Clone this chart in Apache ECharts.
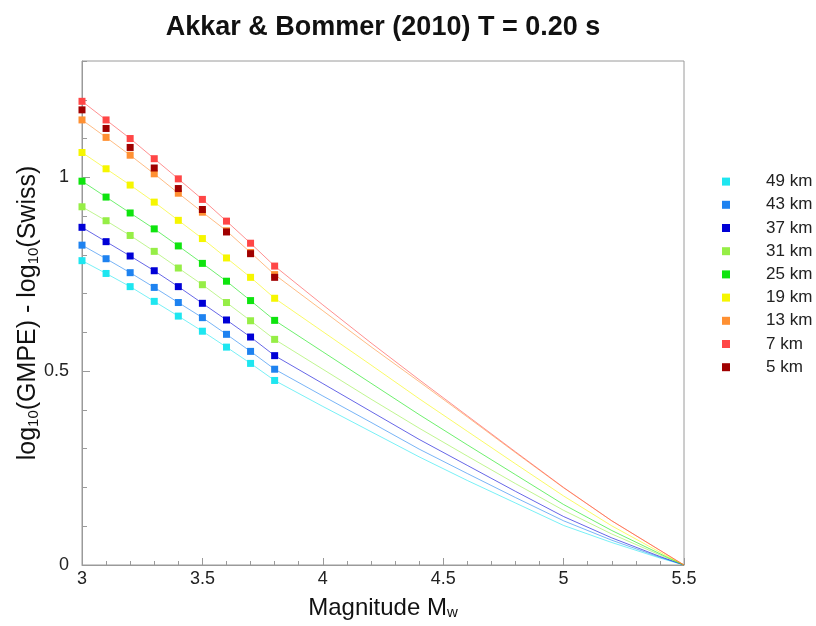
<!DOCTYPE html>
<html>
<head>
<meta charset="utf-8">
<script src="https://cdn.jsdelivr.net/npm/echarts@6/dist/echarts.min.js"></script>
<style>
  html, body { margin: 0; padding: 0; background: #ffffff; }
  #chart { width: 816px; height: 626px; }
</style>
</head>
<body>
<div id="chart"></div>
<script>
// Chart text
const titleText = 'Akkar & Bommer (2010) T = 0.20 s';
const xAxisTitle = 'Magnitude M{s|w}';
const yAxisTitle = 'log{s|10}(GMPE) - log{s|10}(Swiss)';

// Distances (legend order) and their colours
const distanceLabels = ['49 km', '43 km', '37 km', '31 km', '25 km', '19 km', '13 km', '7 km', '5 km'];
const seriesColors = ['#1ee6f0', '#1e82f0', '#0000d6', '#96ee46', '#0ee40e', '#f6f600', '#ff9032', '#ff4646', '#a00000'];

// Magnitudes with plotted points, and further magnitudes along each curve
const markerMagnitudes = [3.0, 3.1, 3.2, 3.3, 3.4, 3.5, 3.6, 3.7, 3.8];
const curveMagnitudes = [4.0, 4.2, 4.4, 4.6, 4.8, 5.0, 5.2, 5.4, 5.5];

// log10(GMPE) - log10(Swiss) at the marker magnitudes
const km49 = [0.785, 0.752, 0.718, 0.680, 0.642, 0.603, 0.562, 0.520, 0.476];
const km43 = [0.825, 0.790, 0.754, 0.716, 0.677, 0.638, 0.595, 0.551, 0.505];
const km37 = [0.871, 0.834, 0.797, 0.759, 0.718, 0.675, 0.632, 0.588, 0.540];
const km31 = [0.924, 0.888, 0.850, 0.809, 0.766, 0.723, 0.677, 0.630, 0.582];
const km25 = [0.990, 0.949, 0.908, 0.867, 0.823, 0.778, 0.732, 0.682, 0.631];
const km19 = [1.064, 1.022, 0.980, 0.936, 0.889, 0.842, 0.792, 0.742, 0.688];
const km13 = [1.148, 1.103, 1.057, 1.009, 0.959, 0.910, 0.862, 0.806, 0.749];
const km7  = [1.196, 1.148, 1.100, 1.048, 0.996, 0.943, 0.887, 0.830, 0.771];
const km5  = [1.174, 1.126, 1.077, 1.024, 0.971, 0.917, 0.859, 0.803, 0.742];

// Continuation of the curves up to M 5.5
const km49Curve = [0.409, 0.344, 0.279, 0.218, 0.160, 0.102, 0.058, 0.018, 0];
const km43Curve = [0.436, 0.368, 0.299, 0.236, 0.174, 0.114, 0.064, 0.020, 0];
const km37Curve = [0.468, 0.396, 0.324, 0.257, 0.190, 0.125, 0.070, 0.022, 0];
const km31Curve = [0.505, 0.428, 0.353, 0.281, 0.210, 0.141, 0.080, 0.026, 0];
const km25Curve = [0.550, 0.469, 0.388, 0.310, 0.233, 0.156, 0.089, 0.029, 0];
const km19Curve = [0.602, 0.516, 0.429, 0.345, 0.261, 0.178, 0.101, 0.033, 0];
const km13Curve = [0.656, 0.563, 0.473, 0.382, 0.290, 0.199, 0.114, 0.038, 0];
const km7Curve  = [0.671, 0.573, 0.478, 0.385, 0.292, 0.200, 0.114, 0.038, 0];

// Axis tick labels
const xTickLabels = ['3', '3.5', '4', '4.5', '5', '5.5'];
const yTickLabels = ['0', '0.5', '1'];

const markerSets = [km49, km43, km37, km31, km25, km19, km13, km7, km5];
const curveSets = [km49Curve, km43Curve, km37Curve, km31Curve, km25Curve, km19Curve, km13Curve, km7Curve, null];

const FONT = 'Liberation Sans, Arial, sans-serif';
const lastMarkerMag = markerMagnitudes[markerMagnitudes.length - 1];

function pairs(xs, ys) {
  return xs.map((x, i) => [x, ys[i]]);
}

const series = distanceLabels.map((name, k) => {
  const color = seriesColors[k];
  const points = pairs(markerMagnitudes, markerSets[k]);
  if (!curveSets[k]) {
    // points only, no fitted curve
    return {
      name: name,
      type: 'scatter',
      symbol: 'rect',
      symbolSize: 7,
      itemStyle: { color: color, opacity: 1 },
      data: points,
      z: 3 + k
    };
  }
  return {
    name: name,
    type: 'line',
    data: points.concat(pairs(curveMagnitudes, curveSets[k])),
    symbol: (v) => (v[0] <= lastMarkerMag + 1e-9 ? 'rect' : 'none'),
    symbolSize: 7,
    showSymbol: true,
    itemStyle: { color: color, opacity: 1 },
    lineStyle: { color: color, width: 1, opacity: 0.6 },
    emphasis: { disabled: true },
    z: 3 + k
  };
});

const subStyle = { fontFamily: FONT, fontSize: 15, color: '#111111', verticalAlign: 'bottom', lineHeight: 10 };

const chart = echarts.init(document.getElementById('chart'), null, { renderer: 'canvas' });

chart.setOption({
  animation: false,
  backgroundColor: '#ffffff',
  title: {
    text: titleText,
    left: 383,
    top: 14,
    textAlign: 'center',
    padding: 0,
    textStyle: { fontFamily: FONT, fontSize: 27, fontWeight: 'bold', color: '#111111' }
  },
  legend: {
    data: distanceLabels,
    orient: 'vertical',
    left: 722,
    top: 170,
    icon: 'rect',
    itemWidth: 8,
    itemHeight: 8,
    itemGap: 0,
    padding: 0,
    selectedMode: false,
    textStyle: {
      fontFamily: FONT, fontSize: 17, color: '#222222',
      lineHeight: 23.2, padding: [0, 0, 0, 31]
    }
  },
  grid: {
    left: 82, right: 132, top: 61, bottom: 61,
    show: true, borderColor: '#9a9a9a', borderWidth: 1,
    backgroundColor: 'transparent'
  },
  xAxis: {
    type: 'value',
    min: 3, max: 5.5, interval: 0.5,
    name: xAxisTitle,
    nameLocation: 'middle',
    nameGap: 31,
    nameMoveOverlap: false,
    nameTextStyle: {
      fontFamily: FONT, fontSize: 24, color: '#111111',
      rich: { s: subStyle }
    },
    axisLine: { show: true, lineStyle: { color: '#9a9a9a', width: 1 } },
    axisTick: { show: true, inside: true, length: 7, lineStyle: { color: '#9a9a9a' } },
    minorTick: { show: true, splitNumber: 5, length: 4, lineStyle: { color: '#9a9a9a' } },
    splitLine: { show: false },
    axisLabel: {
      margin: 5, fontFamily: FONT, fontSize: 18, color: '#222222',
      formatter: (v) => {
        const i = Math.round((v - 3) / 0.5);
        return xTickLabels[i] !== undefined ? xTickLabels[i] : '';
      }
    }
  },
  yAxis: [
    {
      type: 'value',
      min: 0, max: 1.3, interval: 0.5,
      name: yAxisTitle,
      nameLocation: 'middle',
      nameGap: 41,
      nameMoveOverlap: false,
      nameTextStyle: {
        fontFamily: FONT, fontSize: 25, color: '#111111',
        rich: { s: subStyle }
      },
      axisLine: { show: true, lineStyle: { color: '#9a9a9a', width: 1 } },
      axisTick: { show: true, inside: true, length: 8, lineStyle: { color: '#9a9a9a' } },
      splitLine: { show: false },
      axisLabel: {
        margin: 13, fontFamily: FONT, fontSize: 18, color: '#222222',
        showMaxLabel: false,
        formatter: (v) => {
          const i = Math.round(v / 0.5);
          return (Math.abs(v - i * 0.5) < 1e-6 && yTickLabels[i] !== undefined) ? yTickLabels[i] : '';
        }
      }
    },
    {
      // minor ticks every 0.1
      type: 'value',
      position: 'left',
      min: 0, max: 1.3, interval: 0.1,
      axisLine: { show: false },
      axisTick: { show: true, inside: true, length: 5, lineStyle: { color: '#9a9a9a' } },
      axisLabel: { show: false },
      splitLine: { show: false }
    }
  ],
  series: series
});
</script>
</body>
</html>
